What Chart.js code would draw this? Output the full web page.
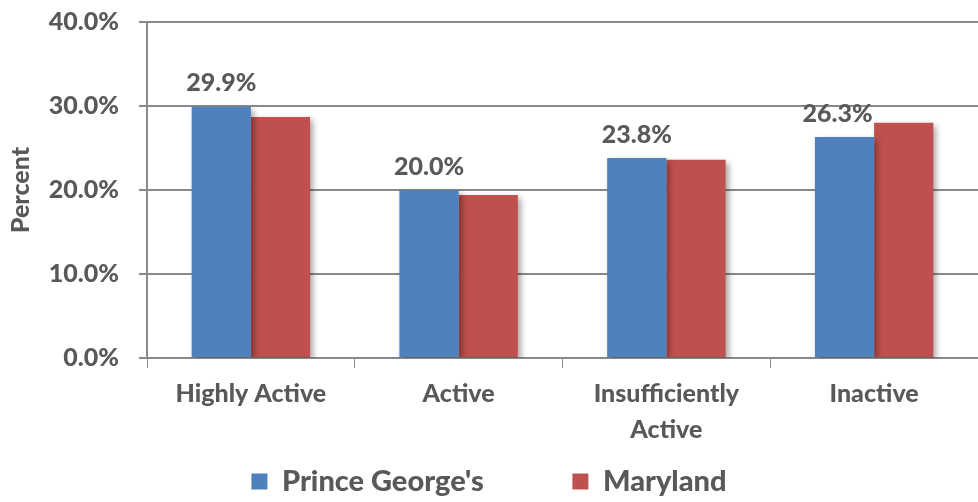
<!DOCTYPE html>
<html>
<head>
<meta charset="utf-8">
<script src="https://cdn.jsdelivr.net/npm/chart.js@4"></script>
<style>
  html, body { margin: 0; padding: 0; background: #fff; }
  #wrap { width: 978px; height: 502px; }
</style>
</head>
<body>
<div id="wrap"><canvas id="activityChart" width="978" height="502"></canvas></div>
<script>
// --- data ---
const categories = [["Highly Active"], ["Active"], ["Insufficiently", "Active"], ["Inactive"]];
const seriesNames = ["Prince George's", "Maryland"];
const princeGeorges = [29.9, 20.0, 23.8, 26.3];
const maryland = [28.7, 19.4, 23.6, 28.0];
const yTicks = [0, 10, 20, 30, 40];

const textColor = "#595959";
const axisColor = "#898989";
const fontFamily = "Lato, 'Open Sans', sans-serif";
const fontWeight = "900";

// draw value labels above the Prince George's bars only
const valueLabels = {
  id: "valueLabels",
  afterDatasetsDraw(chart) {
    const ctx = chart.ctx;
    const meta = chart.getDatasetMeta(0);
    ctx.save();
    ctx.font = fontWeight + " 25px " + fontFamily;
    ctx.fillStyle = textColor;
    ctx.textAlign = "center";
    ctx.textBaseline = "bottom";
    meta.data.forEach(function (bar, i) {
      const x = i === 3 ? bar.x - 7 : bar.x;
      ctx.fillText(princeGeorges[i].toFixed(1) + "%", x, bar.y - 11);
    });
    ctx.restore();
  }
};

// soft shadow behind bars
const barShadow = {
  id: "barShadow",
  beforeDatasetsDraw(chart) {
    const ctx = chart.ctx;
    ctx.save();
    ctx.shadowColor = "rgba(0,0,0,0.35)";
    ctx.shadowBlur = 6;
    ctx.shadowOffsetX = 3;
    ctx.shadowOffsetY = 3;
  },
  afterDatasetsDraw(chart) {
    chart.ctx.restore();
  }
};

const ctx = document.getElementById("activityChart").getContext("2d");
new Chart(ctx, {
  type: "bar",
  data: {
    labels: categories,
    datasets: [{
      // trailing spaces give the gap between the two legend entries
      label: seriesNames[0] + "            ",
      data: princeGeorges,
      backgroundColor: "#4F81BD"
    }, {
      label: seriesNames[1],
      data: maryland,
      backgroundColor: "#C0504D"
    }]
  },
  options: {
    responsive: false,
    animation: false,
    layout: { padding: { top: 22, right: 0, left: 0, bottom: -4 } },
    datasets: {
      bar: { barPercentage: 1.0, categoryPercentage: 0.57 }
    },
    scales: {
      x: {
        grid: {
          display: true,
          drawOnChartArea: false,
          tickLength: 10,
          color: axisColor,
          offset: true
        },
        border: { color: axisColor, width: 2 },
        ticks: {
          color: textColor,
          font: { family: fontFamily, size: 25, weight: fontWeight, lineHeight: 1.45 },
          padding: 8,
          maxRotation: 0
        },
        afterFit(scale) {
          scale.height = 103;
          scale.paddingRight = 0;
        }
      },
      y: {
        min: 0,
        max: 40,
        afterBuildTicks(scale) {
          scale.ticks = yTicks.map(function (v) { return { value: v }; });
        },
        grid: {
          color: axisColor,
          lineWidth: 2,
          tickLength: 8
        },
        border: { color: axisColor, width: 2 },
        ticks: {
          color: textColor,
          font: { family: fontFamily, size: 25, weight: fontWeight },
          padding: 20,
          callback: function (v) { return v.toFixed(1) + "%"; }
        },
        title: {
          display: true,
          text: "Percent",
          color: textColor,
          font: { family: fontFamily, size: 25, weight: fontWeight },
          padding: { top: 6, bottom: 0 }
        },
        afterFit(scale) {
          scale.width = 147;
          scale.paddingTop = 0;
          scale.paddingBottom = 0;
        }
      }
    },
    plugins: {
      legend: {
        position: "bottom",
        labels: {
          color: textColor,
          font: { family: fontFamily, size: 29, weight: fontWeight },
          boxWidth: 16,
          boxHeight: 16,
          padding: 6
        }
      },
      tooltip: { enabled: false }
    }
  },
  plugins: [barShadow, valueLabels]
});
</script>
</body>
</html>
